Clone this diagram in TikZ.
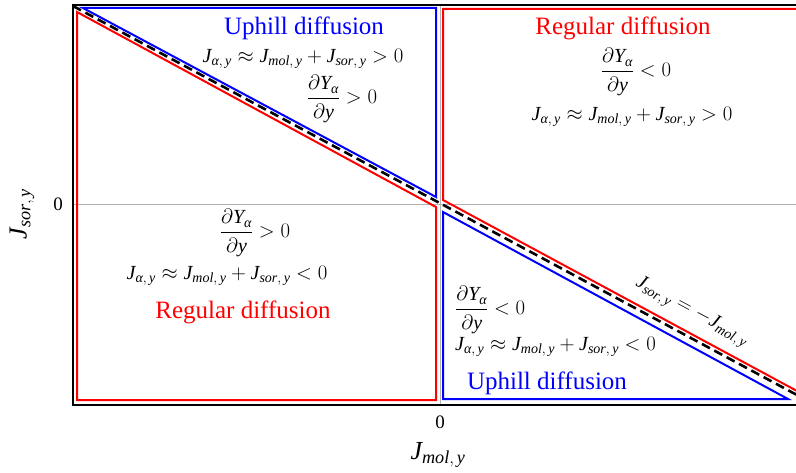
\documentclass[tikz,border=0pt]{standalone}
\usepackage{amsmath}
\usepackage{fontspec}
\setmainfont{Liberation Serif}
\newcommand\myal{\text{\itshape α}}
\newcommand\myJ[1]{\mathit{J}_{#1}}
\newcommand\mydY{\dfrac{\partial \mathit{Y}_{\myal}}{\partial \mathit{y}}}
\newcommand\myJay{\myJ{\myal,\,\mathit{y}}}
\newcommand\myJmol{\myJ{\mathit{mol},\,\mathit{y}}}
\newcommand\myJsor{\myJ{\mathit{sor},\,\mathit{y}}}
\tikzset{
  lbl/.style={font=\fontsize{25}{30}\selectfont, inner sep=0pt},
  eq/.style={font=\fontsize{20}{24}\selectfont, inner sep=0pt},
  axlbl/.style={font=\fontsize{26}{30}\selectfont, inner sep=0pt},
  ticklbl/.style={font=\fontsize{19}{22}\selectfont, inner sep=0pt},
  redline/.style={draw=red, line width=2pt},
  blueline/.style={draw=blue, line width=2pt},
  frameline/.style={draw=black, line width=1.6pt},
  gridline/.style={draw=black!30, line width=0.9pt},
  diag/.style={draw=black, line width=2.6pt, dash pattern=on 9pt off 5pt},
}
\begin{document}
\begin{tikzpicture}[x=1pt,y=-1pt]
\useasboundingbox (0,0) rectangle (796,473);
\begin{scope}
\clip (0,0) rectangle (796,473);
% frame corners
\coordinate (TL) at (73,5);
\coordinate (BL) at (73,405);
\coordinate (TR) at (800,5);
\coordinate (BR) at (800,405);
% grid
\coordinate (HZl) at (73,204);
\coordinate (HZr) at (800,204);
\coordinate (VZt) at (440,5);
\coordinate (VZb) at (440,405);
\draw[gridline] (HZl) -- (HZr);
\draw[gridline] (VZt) -- (VZb);
% blue upper-left
\coordinate (b1a) at (83,8);
\coordinate (b1b) at (436,8);
\coordinate (b1c) at (436,197);
\draw[blueline] (b1a) -- (b1b) -- (b1c) -- cycle;
% red lower-left
\coordinate (r1a) at (77,12);
\coordinate (r1b) at (77,400);
\coordinate (r1c) at (436,400);
\coordinate (r1d) at (436,207);
\draw[redline] (r1a) -- (r1b) -- (r1c) -- (r1d) -- cycle;
% red upper-right
\coordinate (r2a) at (443,200);
\coordinate (r2b) at (443,9);
\coordinate (r2c) at (810,9);
\coordinate (r2d) at (810,398);
\draw[redline] (r2d) -- (r2a) -- (r2b) -- (r2c);
% blue lower-right
\coordinate (b2a) at (443,212);
\coordinate (b2b) at (443,399);
\coordinate (b2c) at (788,399);
\draw[blueline] (b2a) -- (b2b) -- (b2c) -- cycle;
% dashed diagonal
\coordinate (d1) at (73,6);
\coordinate (d2) at (810,402);
\draw[diag] (d1) -- (d2);
% frame
\draw[frameline] (TR) -- (TL) -- (BL) -- (BR);
\end{scope}
% tick labels and axis labels
\node[ticklbl] (t0y) at (58,204) {0};
\node[ticklbl] (t0x) at (440,422) {0};
\node[axlbl] (xl) at (438,455) {$\myJmol$};
\node[axlbl, rotate=90] (yl) at (22,214) {$\myJsor$};
% upper-left
\node[lbl, text=blue] (ul1) at (304,28) {Uphill diffusion};
\node[eq] (ul2) at (303,59) {$\myJay \approx \myJmol + \myJsor > 0$};
\node[eq] (ul3) at (342,99) {$\mydY > 0$};
% upper-right
\node[lbl, text=red] (ur1) at (623,28) {Regular diffusion};
\node[eq] (ur2) at (636,72) {$\mydY < 0$};
\node[eq] (ur3) at (632,117) {$\myJay \approx \myJmol + \myJsor > 0$};
% lower-left
\node[eq] (ll1) at (255,233) {$\mydY > 0$};
\node[eq] (ll2) at (227,276) {$\myJay \approx \myJmol + \myJsor < 0$};
\node[lbl, text=red] (ll3) at (243,312) {Regular diffusion};
% lower-right
\node[eq, anchor=west] (lr1) at (455,310) {$\mydY < 0$};
\node[eq, anchor=west] (lr2) at (455,347) {$\myJay \approx \myJmol + \myJsor < 0$};
\node[lbl, text=blue] (lr3) at (547,383) {Uphill diffusion};
% diagonal label
\node[eq, rotate=-28.2] (dl) at (692,312) {$\myJsor = -\myJmol$};
\end{tikzpicture}
\end{document}
